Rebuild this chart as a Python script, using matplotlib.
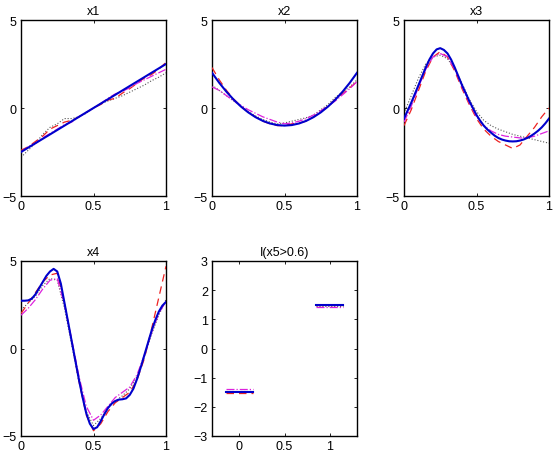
import numpy as np
import matplotlib
matplotlib.use('Agg')
import matplotlib.pyplot as plt

plt.rcParams['font.family'] = ['Liberation Sans', 'DejaVu Sans']
plt.rcParams['font.size'] = 9

# common grid for the fitted curves
grid = np.linspace(0, 1, 21)
grid_fine = np.linspace(0, 1, 41)

# x1 panel
x1_true = [-2.5, -2.25, -2.0, -1.75, -1.5, -1.25, -1.0, -0.75, -0.5, -0.25, 0.0,
           0.25, 0.5, 0.75, 1.0, 1.25, 1.5, 1.75, 2.0, 2.25, 2.5]
x1_red = [-2.4, -2.2, -1.9, -1.6, -1.2, -1.0, -0.8, -0.7, -0.5, -0.25, 0.0,
          0.2, 0.45, 0.55, 0.85, 1.1, 1.4, 1.7, 1.9, 2.2, 2.6]
x1_mag = [-2.5, -2.2, -2.0, -1.7, -1.45, -1.2, -0.95, -0.8, -0.5, -0.25, 0.0,
          0.25, 0.55, 0.8, 0.95, 1.15, 1.4, 1.6, 1.8, 2.0, 2.2]
x1_dot = [-2.8, -2.4, -2.0, -1.5, -1.1, -0.9, -0.6, -0.6, -0.5, -0.3, 0.0,
          0.25, 0.4, 0.55, 0.7, 0.9, 1.1, 1.3, 1.55, 1.75, 2.0]

# x2 panel
x2_true = [2.0, 1.43, 0.92, 0.47, 0.08, -0.25, -0.52, -0.73, -0.88, -0.97, -1.0,
           -0.97, -0.88, -0.73, -0.52, -0.25, 0.08, 0.47, 0.92, 1.43, 2.0]
x2_red = [2.3, 1.6, 1.0, 0.5, 0.1, -0.25, -0.5, -0.75, -0.9, -1.0, -1.0,
          -0.9, -0.85, -0.75, -0.5, -0.2, 0.1, 0.5, 0.8, 1.15, 1.5]
x2_mag = [1.2, 1.0, 0.7, 0.4, 0.15, -0.1, -0.3, -0.5, -0.65, -0.8, -0.9,
          -0.85, -0.75, -0.6, -0.4, -0.15, 0.1, 0.4, 0.75, 1.1, 1.5]
x2_dot = [1.3, 1.0, 0.7, 0.4, 0.1, -0.2, -0.45, -0.65, -0.8, -0.9, -0.85,
          -0.75, -0.65, -0.55, -0.4, -0.1, 0.2, 0.6, 0.9, 1.2, 1.6]

# x3 panel (true curve on the finer grid)
x3_true = [-0.6, -0.15, 0.3, 0.8, 1.3, 1.8, 2.3, 2.75, 3.1, 3.33, 3.4,
           3.3, 3.1, 2.75, 2.3, 1.8, 1.3, 0.85, 0.4, 0.0, -0.4,
           -0.72, -1.0, -1.22, -1.4, -1.57, -1.7, -1.79, -1.85, -1.89, -1.9,
           -1.89, -1.85, -1.79, -1.7, -1.59, -1.45, -1.29, -1.1, -0.87, -0.6]
x3_red = [-1.0, -0.1, 1.0, 2.1, 2.9, 3.2, 2.9, 2.1, 1.1, 0.2, -0.6,
          -1.2, -1.6, -1.9, -2.1, -2.3, -2.1, -1.6, -1.1, -0.5, 0.0]
x3_mag = [-0.8, 0.1, 1.2, 2.2, 2.9, 3.1, 2.9, 2.2, 1.2, 0.3, -0.5,
          -1.0, -1.3, -1.5, -1.6, -1.65, -1.7, -1.7, -1.6, -1.45, -1.3]
x3_dot = [-0.3, 0.7, 1.7, 2.5, 2.9, 3.0, 2.8, 2.2, 1.4, 0.5, -0.2,
          -0.7, -1.0, -1.2, -1.35, -1.5, -1.6, -1.7, -1.8, -1.9, -2.0]

# x4 panel (true curve on the finer grid)
x4_true = [2.73, 2.73, 2.75, 2.85, 3.1, 3.45, 3.8, 4.15, 4.4, 4.55, 4.4,
           3.7, 2.6, 1.5, 0.4, -0.7, -1.8, -2.8, -3.7, -4.3, -4.6,
           -4.5, -4.15, -3.75, -3.4, -3.15, -3.0, -2.92, -2.9, -2.85, -2.65,
           -2.3, -1.75, -1.1, -0.4, 0.3, 1.0, 1.6, 2.1, 2.45, 2.66]
x4_red = [2.0, 2.6, 3.2, 3.8, 4.2, 4.3, 2.6, 0.4, -1.9, -3.8, -4.7,
          -4.3, -3.6, -3.1, -2.8, -2.5, -1.8, -0.6, 1.1, 2.9, 4.7]
x4_mag = [1.9, 2.3, 2.8, 3.4, 3.9, 4.0, 2.5, 0.5, -1.6, -3.3, -4.1,
          -3.8, -3.3, -2.8, -2.5, -2.2, -1.5, -0.4, 0.9, 2.0, 2.7]
x4_dot = [2.2, 2.6, 3.0, 3.6, 4.0, 3.9, 2.3, 0.2, -1.9, -3.6, -4.4,
          -4.0, -3.4, -3.0, -2.7, -2.3, -1.6, -0.5, 0.8, 1.9, 2.8]

# x5 indicator panel: levels at 0 and 1
x5_levels = [0, 1]
x5_true = [-1.5, 1.5]
x5_red = [-1.52, 1.5]
x5_mag = [-1.4, 1.42]
x5_dot = [-1.45, 1.45]

titles = ['x1', 'x2', 'x3', 'x4', 'I(x5>0.6)']

W, H = 556, 460
fig = plt.figure(figsize=(W / 100, H / 100), dpi=100)

def px_axes(left, top, right, bottom):
    return fig.add_axes([left / W, 1 - bottom / H, (right - left) / W, (bottom - top) / H])

boxes = [(21, 21, 166, 197), (212, 21, 357, 197), (404, 21, 549, 197),
         (21, 262, 166, 437), (212, 262, 357, 437)]

styles = [
    dict(color='#0000cc', lw=1.5, ls='-', zorder=4),
    dict(color='#ee2222', lw=0.9, ls=(0, (6, 4)), zorder=3),
    dict(color='#dd22dd', lw=0.9, ls='-.', zorder=3),
    dict(color='#555555', lw=0.8, ls=':', zorder=2),
]

curves = [
    (grid, x1_true, x1_red, x1_mag, x1_dot),
    (grid, x2_true, x2_red, x2_mag, x2_dot),
    (grid_fine, x3_true, x3_red, x3_mag, x3_dot),
    (grid_fine, x4_true, x4_red, x4_mag, x4_dot),
]

for i, box in enumerate(boxes):
    ax = px_axes(*box)
    if i < 4:
        xs, tr, rd, mg, dt = curves[i]
        ax.plot(grid, dt, **styles[3])
        ax.plot(grid, rd, **styles[1])
        ax.plot(grid, mg, **styles[2])
        ax.plot(xs, tr, **styles[0])
        ax.set_xlim(0, 1)
        ax.set_ylim(-5, 5)
        ax.set_xticks([0, 0.5, 1])
        ax.set_xticklabels(['0', '0.5', '1'])
        ax.set_yticks([-5, 0, 5])
        ax.set_yticklabels(['\u22125', '0', '5'])
    else:
        for vals, st in [(x5_dot, styles[3]), (x5_red, styles[1]),
                         (x5_mag, styles[2]), (x5_true, styles[0])]:
            for lev, v in zip(x5_levels, vals):
                ax.plot([lev - 0.15, lev + 0.15], [v, v], **st)
        ax.set_xlim(-0.3, 1.3)
        ax.set_ylim(-3, 3)
        ax.set_xticks([0, 0.5, 1])
        ax.set_xticklabels(['0', '0.5', '1'])
        ax.set_yticks([-3, -2, -1, 0, 1, 2, 3])
        ax.set_yticklabels(['\u22123', '\u22122', '\u22121', '0', '1', '2', '3'])
    ax.set_title(titles[i], fontsize=9, pad=4)
    ax.tick_params(direction='in', top=True, right=True, length=2.5, width=0.6, pad=3)
    for s in ax.spines.values():
        s.set_linewidth(1.0)

fig.savefig('out.png', dpi=100)
